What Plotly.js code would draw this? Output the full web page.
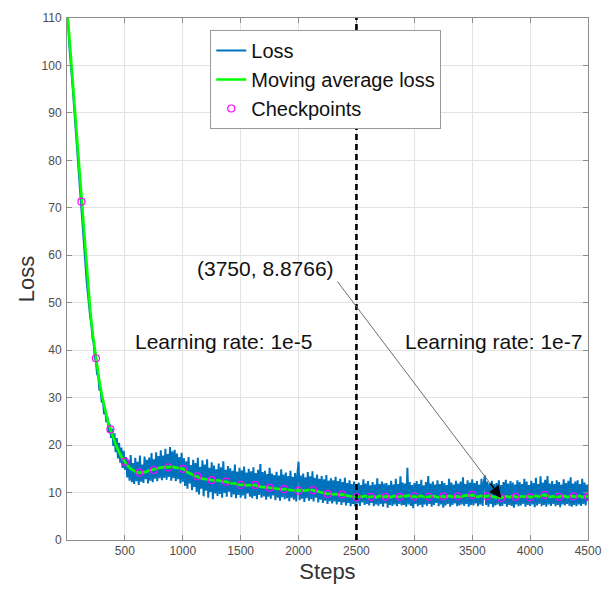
<!DOCTYPE html>
<html>
<head>
<meta charset="utf-8">
<script src="https://cdn.plot.ly/plotly-3.0.1.min.js"></script>
<style>html,body{margin:0;padding:0;background:#fff;}#chart{width:606px;height:590px;}</style>
</head>
<body>
<div id="chart"></div>
<script>
// Raw loss, sampled every 10 steps (0..4500)
const lossStepSize = 10;
const lossValues = [
111,108.5,104,101.5,98,95,91.5,88,85.5,81.5,79,75,72,68.5,65,61,58.5,54.5,52,48.5,
47,45.5,42.5,41.5,38.5,37.5,35,34.5,31.5,31.8,29,29.8,26.5,27.5,24.8,26,22.8,24.5,21.5,23.5,19.8,22.5,18.5,21.5,17.2,20.5,16.3,19.5,15.2,18.8,14.8,
17.5,13.2,16.8,12.5,17.9,12.2,16.2,11.8,17.3,12.4,
16.5,11.6,17.8,12.3,15.9,12.0,17.6,12.8,16.9,11.9,
17.4,12.5,18.3,12.2,17.0,12.9,18.5,12.4,17.7,13.0,
18.9,12.6,17.8,13.1,19.2,12.7,18.1,13.3,19.6,12.5,
18.7,13.0,19.0,12.4,18.2,12.8,17.5,11.9,18.4,12.3,
17.2,11.4,16.6,10.8,17.5,11.9,15.8,10.5,16.9,11.2,
16.2,10.1,17.3,9.6,15.4,10.8,16.8,9.2,15.9,10.4,
17.0,8.9,15.2,10.1,16.4,8.6,15.7,9.8,14.9,9.3,
16.1,9.7,15.3,8.9,16.6,9.9,14.8,9.1,15.6,10.2,
15.1,9.0,14.6,9.6,15.9,8.8,14.4,9.5,15.2,8.9,
14.7,9.4,15.5,8.7,14.2,9.8,15.0,9.1,14.5,8.8,
15.3,9.3,14.1,8.6,14.8,9.5,16.0,8.9,14.3,9.2,
14.6,8.5,13.9,9.1,15.2,8.7,14.0,9.4,13.7,8.4,
14.4,8.9,13.6,8.3,14.9,9.0,13.8,8.6,14.2,8.8,
13.5,8.2,14.6,8.9,13.3,8.5,14.1,8.1,13.9,16.5,
8.4,13.6,8.7,14.0,8.0,13.2,8.8,14.3,8.3,13.4,
8.6,14.5,8.1,13.1,8.9,13.8,7.9,12.9,8.5,13.5,
7.8,12.8,8.3,13.7,7.6,12.5,8.2,13.0,7.7,12.6,
8.1,13.3,7.5,12.4,8.0,12.9,7.4,12.2,7.9,13.1,
7.3,12.0,7.8,12.6,7.1,11.8,7.6,12.3,7.0,11.7,
7.7,12.1,7.2,11.6,7.9,12.8,7.4,11.9,7.6,12.4,
7.3,11.5,7.8,12.2,7.1,11.7,7.5,13.0,7.2,11.8,
7.6,12.3,7.0,11.9,7.7,12.0,6.8,11.6,7.4,12.5,
7.2,11.7,7.5,12.9,7.1,11.8,7.6,13.4,7.3,12.1,
7.4,11.9,7.0,15.2,7.5,12.2,7.2,11.6,6.7,12.0,
7.6,12.4,7.1,11.8,7.4,12.7,6.9,11.5,7.5,12.2,
7.2,13.5,7.6,11.9,7.0,12.3,7.4,11.7,7.8,12.6,
7.1,11.8,7.5,12.4,6.8,12.0,7.3,11.6,7.6,12.9,
7.0,12.1,7.4,11.7,7.7,12.5,7.1,11.9,7.3,12.3,
7.5,13.2,7.2,11.8,7.6,12.6,7.0,12.1,7.4,12.8,
7.3,12.0,7.7,12.4,7.1,11.7,7.5,12.9,7.2,12.2,
13.6,7.4,12.3,7.0,11.9,7.6,12.5,6.9,11.8,7.3,
12.0,7.5,12.6,7.1,11.6,7.2,12.2,7.6,12.7,7.0,
11.9,7.4,12.4,7.2,12.1,6.8,11.7,7.5,12.6,7.1,
12.2,7.3,11.8,7.6,12.9,7.0,12.3,7.4,11.6,7.2,
12.5,7.5,12.0,6.9,13.1,7.3,11.8,7.6,13.4,7.1,
12.1,7.4,12.7,7.0,13.5,7.5,11.9,7.2,12.4,7.6,
11.8,7.1,12.6,7.4,12.2,6.9,11.7,7.5,12.8,7.3,
12.0,7.6,12.5,7.2,13.2,7.0,11.9,7.4,12.3,7.1,
12.6,7.5,11.8,7.2,12.9,7.6,12.1,7.3,11.7,8.2
];

// Moving average loss, sampled every 25 steps (0..4500)
const maStepSize = 25;
const maValues = [
112.5,104.3,96.0,87.8,79.5,71.3,63.0,55.2,48.5,43.0,38.3,34.2,30.7,27.7,25.3,23.3,21.5,19.9,18.5,17.3,
16.5,15.6,15.0,14.6,14.3,14.2,14.3,14.3,14.6,14.7,14.75,15.0,15.2,15.3,15.4,15.3,15.5,15.3,15.2,15.0,
15.0,14.6,14.1,13.9,13.5,13.4,13.0,12.9,12.8,12.6,12.6,12.5,12.6,12.4,12.3,12.3,12.0,11.9,11.9,11.7,
11.6,11.7,11.5,11.6,11.5,11.6,11.3,11.2,11.2,11.1,11.0,10.9,10.9,10.8,10.7,10.7,10.6,10.5,10.5,10.4,
10.4,10.5,10.4,10.5,10.6,10.5,10.3,10.2,10.0,9.9,9.7,9.8,9.6,9.7,9.5,9.6,9.4,9.3,9.2,9.1,
9.0,9.2,9.1,9.3,9.0,9.1,9.2,9.0,9.3,9.1,9.1,9.2,9.0,9.3,9.1,9.1,9.3,9.2,9.4,9.1,
9.2,9.0,9.3,9.2,9.0,9.1,9.3,9.2,9.0,9.1,9.2,9.0,9.3,9.1,9.2,9.2,9.0,9.3,9.4,9.3,
9.5,9.2,9.1,9.3,9.2,9.2,9.4,9.1,9.0,8.9,8.88,9.1,9.2,9.0,9.3,9.1,9.0,9.2,9.1,9.3,
9.0,9.2,9.3,9.1,9.4,9.5,9.3,9.1,9.2,9.0,9.1,9.3,9.2,9.0,9.3,9.2,9.1,9.3,9.0,9.2,
9.1
];

// Checkpoints (every 125 steps)
const checkpointSteps = [125,250,375,500,625,750,875,1000,1125,1250,1375,1500,1625,1750,1875,2000,2125,2250,2375,2500,2625,2750,2875,3000,3125,3250,3375,3500,3625,3750,3875,4000,4125,4250,4375,4500];
const checkpointLoss = [71.3,38.3,23.3,16.5,14.2,14.75,15.3,15.0,13.4,12.6,12.3,11.6,11.6,11.0,10.7,10.4,10.5,9.7,9.6,9.0,9.1,9.1,9.1,9.2,9.1,9.2,9.2,9.5,9.2,8.8766,9.1,9.0,9.5,9.1,9.2,9.1];

const xTicks = [500,1000,1500,2000,2500,3000,3500,4000,4500];
const yTicks = [0,10,20,30,40,50,60,70,80,90,100,110];
const lrSwitchStep = 2500;
const markedPoint = {step: 3750, loss: 8.8766, label: "(3750, 8.8766)"};
const phaseLabels = ["Learning rate: 1e-5", "Learning rate: 1e-7"];
const phaseLabelPos = [[1350, 41.9], [3685, 41.9]];
const markedLabelPos = [1712, 57.3];

const lossSteps = lossValues.map((_, i) => i * lossStepSize);
const maSteps = maValues.map((_, i) => i * maStepSize);

const FONT = '"Liberation Sans", Arial, Helvetica, sans-serif';

const traces = [
  {x: lossSteps, y: lossValues, type: 'scatter', mode: 'lines', name: 'Loss',
   line: {color: '#0072BD', width: 2}},
  {x: maSteps, y: maValues, type: 'scatter', mode: 'lines', name: 'Moving average loss',
   line: {color: '#00FF00', width: 2.6}},
  {x: checkpointSteps, y: checkpointLoss, type: 'scatter', mode: 'markers', name: 'Checkpoints',
   marker: {symbol: 'circle-open', size: 7, color: '#FF00FF', line: {width: 1.2, color: '#FF00FF'}}}
];

const axisCommon = {
  showline: true, linecolor: '#8c8c8c', linewidth: 1, mirror: 'ticks',
  ticks: 'inside', ticklen: 5, tickwidth: 1, tickcolor: '#8c8c8c',
  showgrid: true, gridcolor: '#e3e3e3', gridwidth: 1, zeroline: false,
  tickfont: {family: FONT, size: 12, color: '#4d4d4d'}
};

const layout = {
  width: 606, height: 590,
  margin: {l: 67, r: 18, t: 18, b: 50},
  paper_bgcolor: '#fff', plot_bgcolor: '#fff',
  font: {family: FONT, color: '#222'},
  showlegend: true,
  legend: {x: 0.275, y: 0.977, xanchor: 'left', yanchor: 'top',
    bgcolor: '#fff', bordercolor: '#9a9a9a', borderwidth: 1,
    font: {family: FONT, size: 20, color: '#111'}, tracegroupgap: 0},
  xaxis: Object.assign({}, axisCommon, {
    range: [0, 4500], tickvals: xTicks, ticktext: xTicks.map(String),
    title: {text: 'Steps', font: {family: FONT, size: 22, color: '#333'}, standoff: 6}
  }),
  yaxis: Object.assign({}, axisCommon, {
    range: [0, 110], tickvals: yTicks, ticktext: yTicks.map(String),
    ticklabelstandoff: 2,
    title: {text: 'Loss', font: {family: FONT, size: 22, color: '#333'}, standoff: 0}
  }),
  shapes: [
    {type: 'line', xref: 'x', yref: 'paper', x0: lrSwitchStep, x1: lrSwitchStep, y0: 0, y1: 1,
     line: {color: '#000', width: 2.6, dash: '6px,4px'}, layer: 'above'}
  ],
  annotations: [
    {x: phaseLabelPos[0][0], y: phaseLabelPos[0][1], xref: 'x', yref: 'y', text: phaseLabels[0],
     showarrow: false, font: {family: FONT, size: 21, color: '#111'}},
    {x: phaseLabelPos[1][0], y: phaseLabelPos[1][1], xref: 'x', yref: 'y', text: phaseLabels[1],
     showarrow: false, font: {family: FONT, size: 21, color: '#111'}},
    {x: markedLabelPos[0], y: markedLabelPos[1], xref: 'x', yref: 'y', text: markedPoint.label,
     showarrow: false, font: {family: FONT, size: 21, color: '#111'}},
    {x: markedPoint.step, y: markedPoint.loss, xref: 'x', yref: 'y', text: '',
     showarrow: true, arrowhead: 0, arrowwidth: 1, arrowcolor: '#6e6e6e',
     ax: -165, ay: -218, standoff: 0},
    {x: markedPoint.step, y: markedPoint.loss, xref: 'x', yref: 'y', text: '',
     showarrow: true, arrowhead: 2, arrowsize: 1.6, arrowwidth: 1.5, arrowcolor: '#000',
     ax: -12, ay: -16, standoff: 0}
  ]
};

Plotly.newPlot('chart', traces, layout, {displayModeBar: false, staticPlot: true});
</script>
</body>
</html>
